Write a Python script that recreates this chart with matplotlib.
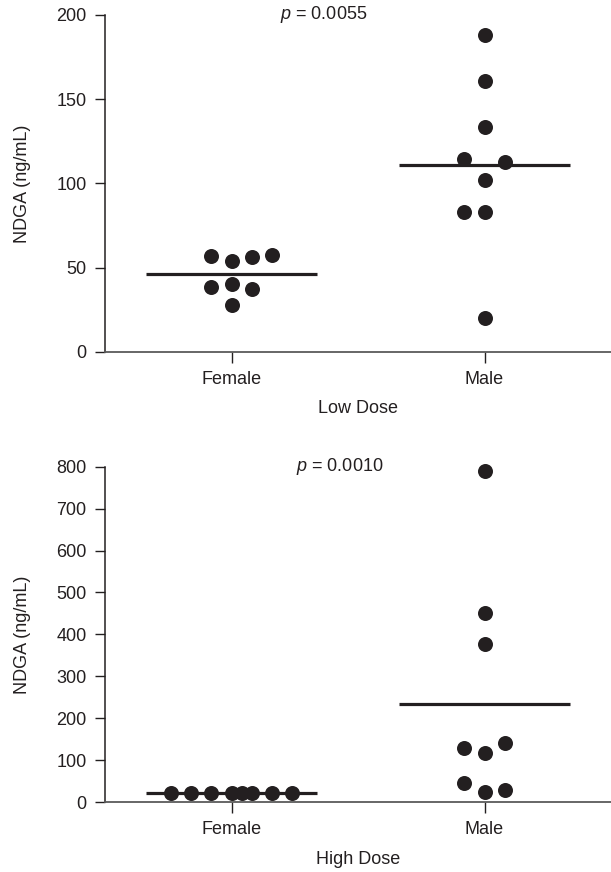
import matplotlib
matplotlib.use("Agg")
import matplotlib.pyplot as plt
import numpy as np

plt.rcParams['font.family'] = ['Liberation Sans', 'DejaVu Sans']
plt.rcParams['mathtext.fontset'] = 'custom'
plt.rcParams['mathtext.it'] = 'Liberation Sans:italic'
plt.rcParams['mathtext.rm'] = 'Liberation Sans'

# ---- data ----
categories = ["Female", "Male"]

low_female = [56.8, 54.1, 56.4, 57.4, 38.3, 40.2, 37.2, 27.7]
low_female_slot = [-1, 0, 1, 2, -1, 0, 1, 0]
low_male = [188.1, 161.0, 133.3, 114.3, 112.9, 102.0, 83.2, 83.2, 20.2]
low_male_slot = [0, 0, 0, -1, 1, 0, -1, 0, 0]

high_female = [20.8, 20.8, 20.8, 20.8, 20.8, 20.8, 20.8, 20.8]
high_female_slot = [-3, -2, -1, 0, 0.5, 1, 2, 3]
high_male = [790, 451, 377, 140.8, 128.8, 117.6, 44.6, 28.6, 24.6]
high_male_slot = [0, 0, 0, 1, -1, 0, -1, 1, 0]

low_yticks = [0, 50, 100, 150, 200]
high_yticks = [0, 100, 200, 300, 400, 500, 600, 700, 800]
low_p = "0.0055"
high_p = "0.0010"
panel_titles = ["Low Dose", "High Dose"]
ylabel = "NDGA (ng/mL)"

# ---- style ----
INK = '#231f20'
AXC = '#5a5a5a'
FS = 13
SLOT = 0.0792
HALF = 0.337

fig = plt.figure(figsize=(6.11, 8.72), dpi=100)
W, H = 611, 872


def panel(rect, groups, yticks, ptxt, px, title):
    ax = fig.add_axes(rect)
    for i, (vals, slots) in enumerate(groups):
        xc = i + 1
        xs = xc + np.array(slots, dtype=float) * SLOT
        ax.plot(xs, vals, 'o', ms=10.8, color=INK, mec=INK, mew=0,
                clip_on=False, zorder=3)
        m = np.mean(vals)
        ax.plot([xc - HALF, xc + HALF], [m, m], color=INK, lw=2.3,
                solid_capstyle='butt', zorder=2)
    ax.set_xlim(0.5, 2.5)
    ax.set_ylim(yticks[0], yticks[-1])
    ax.set_yticks(yticks)
    ax.set_xticks([1, 2])
    ax.set_xticklabels(categories)
    for s in ['top', 'right']:
        ax.spines[s].set_visible(False)
    ax.spines['left'].set_color(INK)
    ax.spines['left'].set_linewidth(1.1)
    ax.spines['bottom'].set_color(AXC)
    ax.spines['bottom'].set_linewidth(1.3)
    ax.tick_params(axis='y', direction='out', length=7.2, width=1.0,
                   color=INK, labelsize=FS, labelcolor=INK, pad=6.2)
    ax.tick_params(axis='x', direction='out', length=8, width=1.0,
                   color=INK, labelsize=FS, labelcolor=INK, pad=6)
    ax.set_xlabel(title, fontsize=FS, color=INK)
    ax.xaxis.set_label_coords(0.5, -0.170)
    ax.xaxis.label.set_verticalalignment('center')
    ax.set_ylabel(ylabel, fontsize=FS, color=INK)
    ax.yaxis.set_label_coords(-0.1626, 0.5)
    ax.yaxis.label.set_verticalalignment('center')
    ax.text(px, yticks[-1], r'$p$ = ' + ptxt, fontsize=FS, color=INK,
            ha='center', va='center')
    return ax


top_rect = [105 / W, 1 - 351.7 / H, 506 / W, (351.7 - 15) / H]
bot_rect = [105 / W, 1 - 802 / H, 506 / W, (802 - 466.7) / H]

panel(top_rect, [(low_female, low_female_slot), (low_male, low_male_slot)],
      low_yticks, low_p, 1.366, panel_titles[0])
panel(bot_rect, [(high_female, high_female_slot), (high_male, high_male_slot)],
      high_yticks, high_p, 1.427, panel_titles[1])

fig.savefig("out.png", dpi=100)
